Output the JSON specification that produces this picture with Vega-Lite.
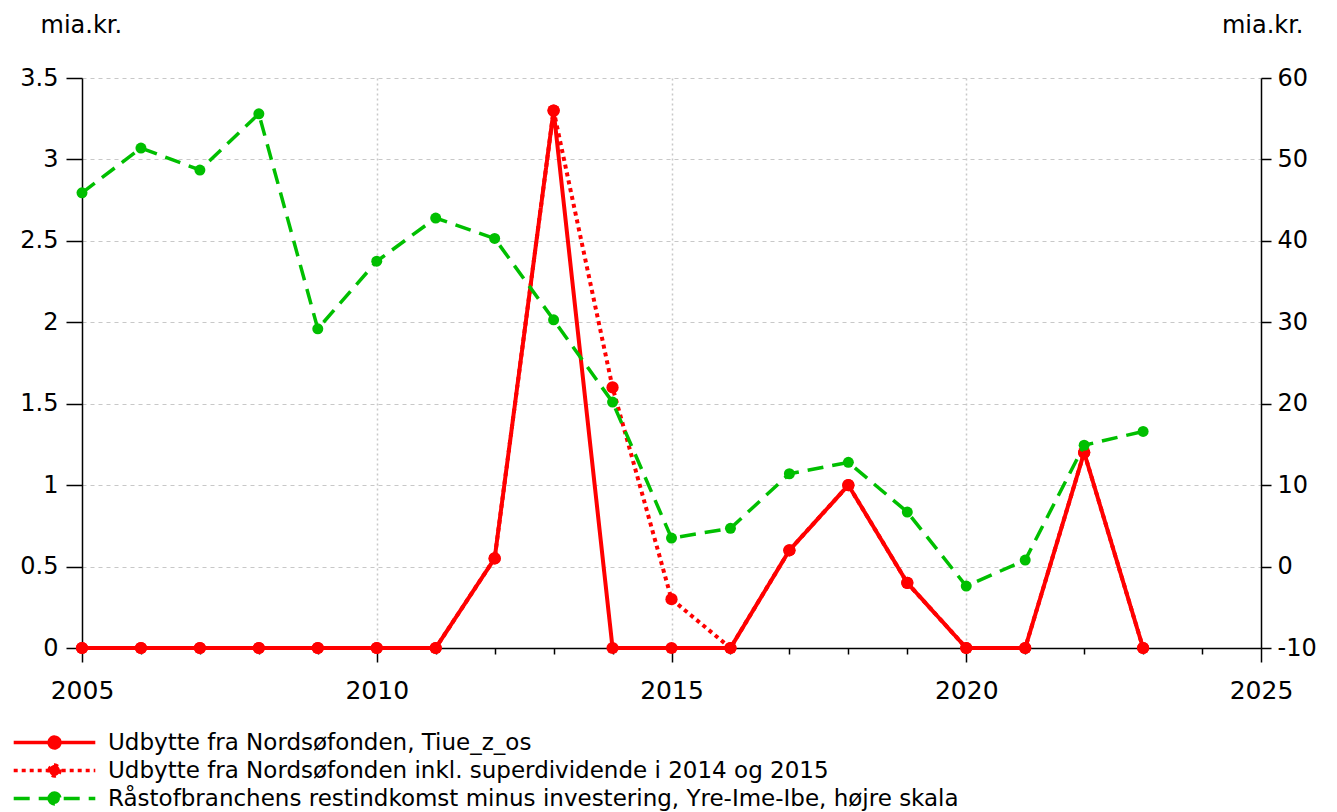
{
  "$schema": "https://vega.github.io/schema/vega-lite/v6.json",
  "width": 1179,
  "height": 570,
  "autosize": {"type": "none"},
  "padding": {"left": 82, "top": 78, "right": 76, "bottom": 164},
  "background": "white",
  "config": {
    "view": {"stroke": null},
    "font": "DejaVu Sans",
    "axis": {"labelFont": "DejaVu Sans", "titleFont": "DejaVu Sans", "labelColor": "black", "titleColor": "black", "domainColor": "black", "tickColor": "black", "domainWidth": 1.5, "tickWidth": 1.5, "labelFontSize": 24, "titleFontSize": 24, "titleFontWeight": "normal"},
    "legend": {"labelFont": "DejaVu Sans"}
  },
  "datasets": {
    "rows": [
      {"year": 2005, "series": "Udbytte fra Nordsøfonden, Tiue_z_os", "value": 0},
      {"year": 2006, "series": "Udbytte fra Nordsøfonden, Tiue_z_os", "value": 0},
      {"year": 2007, "series": "Udbytte fra Nordsøfonden, Tiue_z_os", "value": 0},
      {"year": 2008, "series": "Udbytte fra Nordsøfonden, Tiue_z_os", "value": 0},
      {"year": 2009, "series": "Udbytte fra Nordsøfonden, Tiue_z_os", "value": 0},
      {"year": 2010, "series": "Udbytte fra Nordsøfonden, Tiue_z_os", "value": 0},
      {"year": 2011, "series": "Udbytte fra Nordsøfonden, Tiue_z_os", "value": 0},
      {"year": 2012, "series": "Udbytte fra Nordsøfonden, Tiue_z_os", "value": 0.55},
      {"year": 2013, "series": "Udbytte fra Nordsøfonden, Tiue_z_os", "value": 3.3},
      {"year": 2014, "series": "Udbytte fra Nordsøfonden, Tiue_z_os", "value": 0},
      {"year": 2015, "series": "Udbytte fra Nordsøfonden, Tiue_z_os", "value": 0},
      {"year": 2016, "series": "Udbytte fra Nordsøfonden, Tiue_z_os", "value": 0},
      {"year": 2017, "series": "Udbytte fra Nordsøfonden, Tiue_z_os", "value": 0.6},
      {"year": 2018, "series": "Udbytte fra Nordsøfonden, Tiue_z_os", "value": 1.0},
      {"year": 2019, "series": "Udbytte fra Nordsøfonden, Tiue_z_os", "value": 0.4},
      {"year": 2020, "series": "Udbytte fra Nordsøfonden, Tiue_z_os", "value": 0},
      {"year": 2021, "series": "Udbytte fra Nordsøfonden, Tiue_z_os", "value": 0},
      {"year": 2022, "series": "Udbytte fra Nordsøfonden, Tiue_z_os", "value": 1.2},
      {"year": 2023, "series": "Udbytte fra Nordsøfonden, Tiue_z_os", "value": 0},
      {"year": 2005, "series": "Udbytte fra Nordsøfonden inkl. superdividende i 2014 og 2015", "value": 0},
      {"year": 2006, "series": "Udbytte fra Nordsøfonden inkl. superdividende i 2014 og 2015", "value": 0},
      {"year": 2007, "series": "Udbytte fra Nordsøfonden inkl. superdividende i 2014 og 2015", "value": 0},
      {"year": 2008, "series": "Udbytte fra Nordsøfonden inkl. superdividende i 2014 og 2015", "value": 0},
      {"year": 2009, "series": "Udbytte fra Nordsøfonden inkl. superdividende i 2014 og 2015", "value": 0},
      {"year": 2010, "series": "Udbytte fra Nordsøfonden inkl. superdividende i 2014 og 2015", "value": 0},
      {"year": 2011, "series": "Udbytte fra Nordsøfonden inkl. superdividende i 2014 og 2015", "value": 0},
      {"year": 2012, "series": "Udbytte fra Nordsøfonden inkl. superdividende i 2014 og 2015", "value": 0.55},
      {"year": 2013, "series": "Udbytte fra Nordsøfonden inkl. superdividende i 2014 og 2015", "value": 3.3},
      {"year": 2014, "series": "Udbytte fra Nordsøfonden inkl. superdividende i 2014 og 2015", "value": 1.6},
      {"year": 2015, "series": "Udbytte fra Nordsøfonden inkl. superdividende i 2014 og 2015", "value": 0.3},
      {"year": 2016, "series": "Udbytte fra Nordsøfonden inkl. superdividende i 2014 og 2015", "value": 0},
      {"year": 2017, "series": "Udbytte fra Nordsøfonden inkl. superdividende i 2014 og 2015", "value": 0.6},
      {"year": 2018, "series": "Udbytte fra Nordsøfonden inkl. superdividende i 2014 og 2015", "value": 1.0},
      {"year": 2019, "series": "Udbytte fra Nordsøfonden inkl. superdividende i 2014 og 2015", "value": 0.4},
      {"year": 2020, "series": "Udbytte fra Nordsøfonden inkl. superdividende i 2014 og 2015", "value": 0},
      {"year": 2021, "series": "Udbytte fra Nordsøfonden inkl. superdividende i 2014 og 2015", "value": 0},
      {"year": 2022, "series": "Udbytte fra Nordsøfonden inkl. superdividende i 2014 og 2015", "value": 1.2},
      {"year": 2023, "series": "Udbytte fra Nordsøfonden inkl. superdividende i 2014 og 2015", "value": 0},
      {"year": 2005, "series": "Råstofbranchens restindkomst minus investering, Yre-Ime-Ibe, højre skala", "value": 45.9},
      {"year": 2006, "series": "Råstofbranchens restindkomst minus investering, Yre-Ime-Ibe, højre skala", "value": 51.4},
      {"year": 2007, "series": "Råstofbranchens restindkomst minus investering, Yre-Ime-Ibe, højre skala", "value": 48.7},
      {"year": 2008, "series": "Råstofbranchens restindkomst minus investering, Yre-Ime-Ibe, højre skala", "value": 55.6},
      {"year": 2009, "series": "Råstofbranchens restindkomst minus investering, Yre-Ime-Ibe, højre skala", "value": 29.2},
      {"year": 2010, "series": "Råstofbranchens restindkomst minus investering, Yre-Ime-Ibe, højre skala", "value": 37.5},
      {"year": 2011, "series": "Råstofbranchens restindkomst minus investering, Yre-Ime-Ibe, højre skala", "value": 42.8},
      {"year": 2012, "series": "Råstofbranchens restindkomst minus investering, Yre-Ime-Ibe, højre skala", "value": 40.3},
      {"year": 2013, "series": "Råstofbranchens restindkomst minus investering, Yre-Ime-Ibe, højre skala", "value": 30.3},
      {"year": 2014, "series": "Råstofbranchens restindkomst minus investering, Yre-Ime-Ibe, højre skala", "value": 20.2},
      {"year": 2015, "series": "Råstofbranchens restindkomst minus investering, Yre-Ime-Ibe, højre skala", "value": 3.5},
      {"year": 2016, "series": "Råstofbranchens restindkomst minus investering, Yre-Ime-Ibe, højre skala", "value": 4.7},
      {"year": 2017, "series": "Råstofbranchens restindkomst minus investering, Yre-Ime-Ibe, højre skala", "value": 11.4},
      {"year": 2018, "series": "Råstofbranchens restindkomst minus investering, Yre-Ime-Ibe, højre skala", "value": 12.8},
      {"year": 2019, "series": "Råstofbranchens restindkomst minus investering, Yre-Ime-Ibe, højre skala", "value": 6.7},
      {"year": 2020, "series": "Råstofbranchens restindkomst minus investering, Yre-Ime-Ibe, højre skala", "value": -2.4},
      {"year": 2021, "series": "Råstofbranchens restindkomst minus investering, Yre-Ime-Ibe, højre skala", "value": 0.8},
      {"year": 2022, "series": "Råstofbranchens restindkomst minus investering, Yre-Ime-Ibe, højre skala", "value": 14.9},
      {"year": 2023, "series": "Råstofbranchens restindkomst minus investering, Yre-Ime-Ibe, højre skala", "value": 16.6}
    ]
  },
  "data": {"name": "rows"},
  "layer": [
    {
      "layer": [
        {
          "transform": [{"filter": "datum.series === 'Udbytte fra Nordsøfonden inkl. superdividende i 2014 og 2015'"}],
          "mark": {"type": "line", "strokeWidth": 4, "strokeCap": "butt"},
          "encoding": {
            "x": {
              "field": "year", "type": "quantitative",
              "scale": {"domain": [2005, 2025], "nice": false, "zero": false},
              "axis": {
                "title": null,
                "values": [2005, 2006, 2007, 2008, 2009, 2010, 2011, 2012, 2013, 2014, 2015, 2016, 2017, 2018, 2019, 2020, 2021, 2022, 2023, 2024, 2025],
                "format": "d",
                "labelExpr": "datum.value % 5 === 0 ? datum.label : ''",
                "labelFlush": false,
                "labelOverlap": false,
                "labelFontSize": 25,
                "tickSize": {"condition": {"test": "datum.value % 5 === 0", "value": 14}, "value": 6},
                "labelPadding": 16,
                "grid": true,
                "gridColor": {"condition": {"test": "datum.value % 5 === 0 && datum.value > 2005 && datum.value < 2025", "value": "#c8c8c8"}, "value": "transparent"},
                "gridDash": [2, 3],
                "gridWidth": 1.5
              }
            },
            "y": {
              "field": "value", "type": "quantitative",
              "scale": {"domain": [0, 3.5], "nice": false},
              "axis": {
                "orient": "left",
                "values": [0, 0.5, 1, 1.5, 2, 2.5, 3, 3.5],
                "format": "~g",
                "tickSize": 16,
                "labelPadding": 8,
                "grid": true,
                "gridColor": "#c8c8c8",
                "gridDash": [4, 4],
                "gridWidth": 1.2,
                "title": "mia.kr.",
                "titleAngle": 0,
                "titleAlign": "left",
                "titleBaseline": "alphabetic",
                "titleX": -42,
                "titleY": -46
              }
            },
            "color": {
              "field": "series", "type": "nominal",
              "scale": {
                "domain": ["Udbytte fra Nordsøfonden, Tiue_z_os", "Udbytte fra Nordsøfonden inkl. superdividende i 2014 og 2015", "Råstofbranchens restindkomst minus investering, Yre-Ime-Ibe, højre skala"],
                "range": ["#ff0000", "#ff0000", "#00bf00"]
              },
              "legend": {
                "title": null,
                "orient": "none",
                "legendX": -39,
                "legendY": 653,
                "direction": "vertical",
                "symbolType": "M-6.8,0H6.8M-0.9,0A0.9,0.9,0,1,1,0.9,0A0.9,0.9,0,1,1,-0.9,0Z",
                "symbolSize": 144,
                "symbolStrokeWidth": 3.5,
                "labelFontSize": 23,
                "labelColor": "black",
                "labelOffset": 42,
                "labelLimit": 1200,
                "rowPadding": 3,
                "encode": {"symbols": {"update": {"fill": {"scale": "color", "field": "value"}}}}
              }
            },
            "strokeDash": {
              "field": "series", "type": "nominal",
              "scale": {
                "domain": ["Udbytte fra Nordsøfonden, Tiue_z_os", "Udbytte fra Nordsøfonden inkl. superdividende i 2014 og 2015", "Råstofbranchens restindkomst minus investering, Yre-Ime-Ibe, højre skala"],
                "range": [[1, 0], [4, 4], [16, 9]]
              },
              "legend": {
                "title": null,
                "orient": "none",
                "legendX": -39,
                "legendY": 653,
                "direction": "vertical",
                "symbolType": "M-6.8,0H6.8M-0.9,0A0.9,0.9,0,1,1,0.9,0A0.9,0.9,0,1,1,-0.9,0Z",
                "symbolSize": 144,
                "symbolStrokeWidth": 3.5,
                "labelFontSize": 23,
                "labelColor": "black",
                "labelOffset": 42,
                "labelLimit": 1200,
                "rowPadding": 3,
                "encode": {"symbols": {"update": {"fill": {"scale": "color", "field": "value"}}}}
              }
            }
          }
        },
        {
          "transform": [{"filter": "datum.series === 'Udbytte fra Nordsøfonden, Tiue_z_os'"}],
          "mark": {"type": "line", "strokeWidth": 4},
          "encoding": {
            "x": {"field": "year", "type": "quantitative"},
            "y": {"field": "value", "type": "quantitative", "scale": {"domain": [0, 3.5], "nice": false}},
            "color": {"field": "series", "type": "nominal"},
            "strokeDash": {"field": "series", "type": "nominal"}
          }
        },
        {
          "transform": [{"filter": "datum.series !== 'Råstofbranchens restindkomst minus investering, Yre-Ime-Ibe, højre skala'"}],
          "mark": {"type": "point", "filled": true, "opacity": 1, "color": "#ff0000", "size": 150},
          "encoding": {
            "x": {"field": "year", "type": "quantitative"},
            "y": {"field": "value", "type": "quantitative", "scale": {"domain": [0, 3.5], "nice": false}}
          }
        }
      ]
    },
    {
      "transform": [{"filter": "datum.series === 'Råstofbranchens restindkomst minus investering, Yre-Ime-Ibe, højre skala'"}],
      "layer": [
        {
          "mark": {"type": "line", "strokeWidth": 3.5, "strokeCap": "butt"},
          "encoding": {
            "x": {"field": "year", "type": "quantitative"},
            "y": {
              "field": "value", "type": "quantitative",
              "scale": {"domain": [-10, 60], "nice": false, "zero": false},
              "axis": {
                "orient": "right",
                "values": [-10, 0, 10, 20, 30, 40, 50, 60],
                "labelExpr": "datum.value < 0 ? '-' + abs(datum.value) : datum.label",
                "tickSize": 10,
                "labelPadding": 6,
                "grid": false,
                "title": "mia.kr.",
                "titleAngle": 0,
                "titleAlign": "right",
                "titleBaseline": "alphabetic",
                "titleX": 42,
                "titleY": -46
              }
            },
            "color": {"field": "series", "type": "nominal"},
            "strokeDash": {"field": "series", "type": "nominal"}
          }
        },
        {
          "mark": {"type": "point", "filled": true, "opacity": 1, "color": "#00bf00", "size": 121},
          "encoding": {
            "x": {"field": "year", "type": "quantitative"},
            "y": {"field": "value", "type": "quantitative", "scale": {"domain": [-10, 60], "nice": false, "zero": false}}
          }
        }
      ]
    }
  ],
  "resolve": {"scale": {"y": "independent"}}
}
